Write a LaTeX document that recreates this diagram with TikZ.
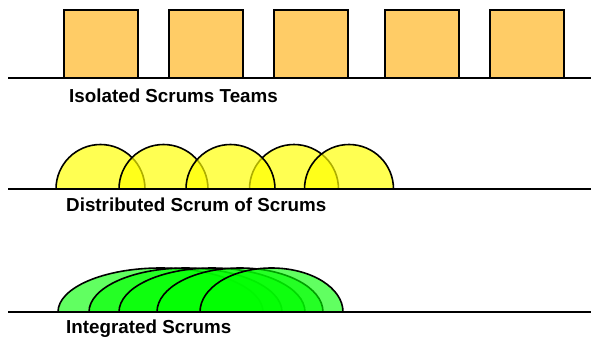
\documentclass[tikz,border=0pt]{standalone}
\usepackage{fontspec}
\setmainfont{Liberation Sans}
\definecolor{boxorange}{HTML}{FFCC66}
\definecolor{capyellow}{HTML}{FFFF00}
\definecolor{capgreen}{HTML}{00FF00}
\begin{document}
\begin{tikzpicture}[x=1pt,y=1pt,
  ground/.style={line width=1.9pt},
  teambox/.style={draw=black,line width=1.7pt,fill=boxorange,minimum width=74pt,minimum height=68pt,anchor=south west,inner sep=0pt,outer sep=0pt},
  scrumcap/.style={draw=black,line width=1.6pt,fill=capyellow,fill opacity=0.68},
  intcap/.style={draw=black,line width=1.6pt,fill=capgreen,fill opacity=0.62},
  lbl/.style={font=\bfseries\fontsize{18.8}{20}\selectfont,anchor=base west,inner sep=0pt}]
\useasboundingbox (0,0) rectangle (591,338);

% --- Isolated Scrum Teams ---
\node[teambox] (t1) at (64,260) {};
\node[teambox] (t2) at (169,260) {};
\node[teambox] (t3) at (274,260) {};
\node[teambox] (t4) at (385,260) {};
\node[teambox] (t5) at (490,260) {};
\coordinate (g1a) at (8,260);
\coordinate (g1b) at (591,260);
\draw[ground] (g1a) -- (g1b);
\node[lbl] (l1) at (69,236) {Isolated Scrums Teams};

% --- Distributed Scrum of Scrums ---
\draw[scrumcap] (56,149) arc[start angle=180,end angle=0,radius=44.5] -- cycle;
\draw[scrumcap] (119,149) arc[start angle=180,end angle=0,radius=44.5] -- cycle;
\draw[scrumcap] (249.5,149) arc[start angle=180,end angle=0,radius=44.5] -- cycle;
\draw[scrumcap] (186,149) arc[start angle=180,end angle=0,radius=44.5] -- cycle;
\draw[scrumcap] (304.5,149) arc[start angle=180,end angle=0,radius=44.5] -- cycle;
\coordinate (g2a) at (8,149);
\coordinate (g2b) at (591,149);
\draw[ground] (g2a) -- (g2b);
\node[lbl] (l2) at (66,127) {Distributed Scrum of Scrums};

% --- Integrated Scrums ---
\draw[intcap] (58,26) arc[start angle=180,end angle=0,x radius=102.5,y radius=44] -- cycle;
\draw[intcap] (89,26) arc[start angle=180,end angle=0,x radius=96.5,y radius=44] -- cycle;
\draw[intcap] (119,26) arc[start angle=180,end angle=0,x radius=93,y radius=44] -- cycle;
\draw[intcap] (157,26) arc[start angle=180,end angle=0,x radius=83,y radius=44] -- cycle;
\draw[intcap] (200,26) arc[start angle=180,end angle=0,x radius=71.5,y radius=44] -- cycle;
\coordinate (g3a) at (8,26);
\coordinate (g3b) at (591,26);
\draw[ground] (g3a) -- (g3b);
\node[lbl] (l3) at (66,5) {Integrated Scrums};
\end{tikzpicture}
\end{document}
